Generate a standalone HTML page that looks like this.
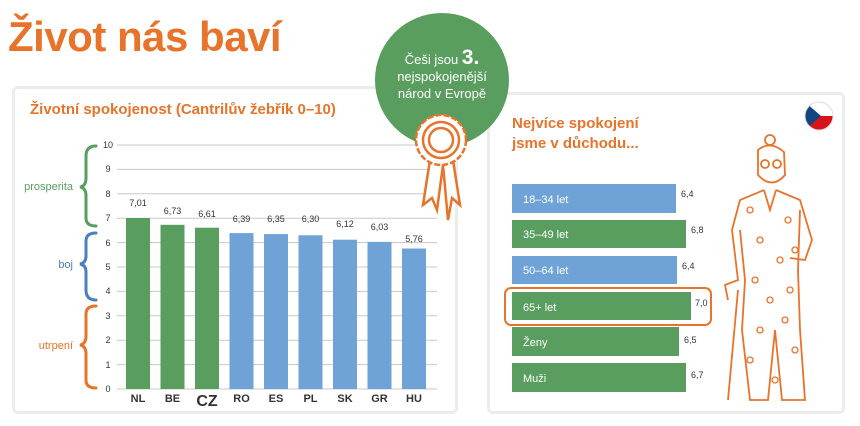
<!DOCTYPE html>
<html><head><meta charset="utf-8"><style>
body{margin:0;width:860px;height:426px;background:#fff;font-family:"Liberation Sans",sans-serif;overflow:hidden;position:relative}
.a{position:absolute}
</style></head><body>
<div class="a" style="left:8px;top:13px;font-size:42px;font-weight:bold;color:#e8732a;letter-spacing:-0.5px">Život nás baví</div>
<div class="a" style="left:12px;top:86px;width:440px;height:322px;border:3px solid #ececec;border-radius:6px"></div>
<div class="a" style="left:487px;top:92px;width:352px;height:316px;border:3px solid #ececec;border-radius:6px"></div>
<svg class="a" style="left:0;top:0" width="860" height="426" font-family="Liberation Sans, sans-serif">
<text x="30" y="114" font-size="15" font-weight="bold" fill="#e8732a">Životní spokojenost (Cantrilův žebřík 0–10)</text>
<g stroke="#c8c8c8" stroke-width="1">
<line x1="117" x2="437" y1="145" y2="145"/><line x1="117" x2="437" y1="169.4" y2="169.4"/><line x1="117" x2="437" y1="193.8" y2="193.8"/><line x1="117" x2="437" y1="218.2" y2="218.2"/><line x1="117" x2="437" y1="242.6" y2="242.6"/><line x1="117" x2="437" y1="267" y2="267"/><line x1="117" x2="437" y1="291.4" y2="291.4"/><line x1="117" x2="437" y1="315.8" y2="315.8"/><line x1="117" x2="437" y1="340.2" y2="340.2"/><line x1="117" x2="437" y1="364.6" y2="364.6"/><line x1="117" x2="437" y1="389" y2="389"/>
</g>
<g font-size="9" fill="#333" text-anchor="middle">
<text x="108" y="148">10</text><text x="108" y="172">9</text><text x="108" y="197">8</text><text x="108" y="221">7</text><text x="108" y="246">6</text><text x="108" y="270">5</text><text x="108" y="294">4</text><text x="108" y="319">3</text><text x="108" y="343">2</text><text x="108" y="368">1</text><text x="108" y="392">0</text>
</g>
<g>
<rect x="126" y="218" width="24" height="171" fill="#5a9e5f"/>
<rect x="160.5" y="224.8" width="24" height="164.2" fill="#5a9e5f"/>
<rect x="195" y="227.7" width="24" height="161.3" fill="#5a9e5f"/>
<rect x="229.5" y="233.1" width="24" height="155.9" fill="#6fa3d8"/>
<rect x="264" y="234.1" width="24" height="154.9" fill="#6fa3d8"/>
<rect x="298.5" y="235.3" width="24" height="153.7" fill="#6fa3d8"/>
<rect x="333" y="239.7" width="24" height="149.3" fill="#6fa3d8"/>
<rect x="367.5" y="241.9" width="24" height="147.1" fill="#6fa3d8"/>
<rect x="402" y="248.5" width="24" height="140.5" fill="#6fa3d8"/>
</g>
<g font-size="9" fill="#333" text-anchor="middle">
<text x="138" y="206">7,01</text><text x="172.5" y="214">6,73</text><text x="207" y="217">6,61</text><text x="241.5" y="222">6,39</text><text x="276" y="222">6,35</text><text x="310.5" y="222">6,30</text><text x="345" y="227">6,12</text><text x="379.5" y="230">6,03</text><text x="414" y="242">5,76</text>
</g>
<g font-size="11" font-weight="bold" fill="#333" text-anchor="middle">
<text x="138" y="402">NL</text><text x="172.5" y="402">BE</text><text x="207" y="406" font-size="16">CZ</text><text x="241.5" y="402">RO</text><text x="276" y="402">ES</text><text x="310.5" y="402">PL</text><text x="345" y="402">SK</text><text x="379.5" y="402">GR</text><text x="414" y="402">HU</text>
</g>
<g fill="none" stroke-width="3" stroke-linecap="round">
<path d="M96 146 Q86 146 86 156 L86 178 Q86 186 80 187 Q86 188 86 196 L86 218 Q86 226 96 226" stroke="#5a9e5f"/>
<path d="M96 233 Q86 233 86 241 L86 256 Q86 263 80 264 Q86 265 86 272 L86 290 Q86 300 96 300" stroke="#4a7fc0"/>
<path d="M96 306 Q86 306 86 314 L86 336 Q86 344 80 345 Q86 346 86 354 L86 380 Q86 388 96 388" stroke="#e8732a"/>
</g>
<text x="73" y="190" font-size="11" fill="#5a9e5f" text-anchor="end">prosperita</text>
<text x="73" y="268" font-size="11" fill="#4a7fc0" text-anchor="end">boj</text>
<text x="73" y="349" font-size="11" fill="#e8732a" text-anchor="end">utrpení</text>
<circle cx="442" cy="80" r="67" fill="#5a9e5f"/>
<text x="442" y="64" font-size="13" fill="#fff" text-anchor="middle">Češi jsou <tspan font-size="21" font-weight="bold">3.</tspan></text>
<text x="442" y="81" font-size="13" fill="#fff" text-anchor="middle">nejspokojenější</text>
<text x="442" y="98" font-size="13" fill="#fff" text-anchor="middle">národ v Evropě</text>
<g fill="#fff" stroke="#e8732a" stroke-width="2.5">
<path d="M430 160 L423 205 L432 198 L437 210 L443 165 M453 160 L460 205 L452 198 L448 220 L443 165"/>
<circle cx="441" cy="140" r="25" stroke-dasharray="6 2"/>
<circle cx="441" cy="140" r="18"/>
<circle cx="441" cy="140" r="12"/>
</g>
<text x="512" y="128" font-size="15" font-weight="bold" fill="#e8732a">Nejvíce spokojení</text>
<text x="512" y="148" font-size="15" font-weight="bold" fill="#e8732a">jsme v důchodu...</text>
<clipPath id="f"><circle cx="819" cy="116" r="14"/></clipPath>
<g clip-path="url(#f)"><rect x="805" y="102" width="28" height="14" fill="#fff"/><rect x="805" y="116" width="28" height="14" fill="#d7141a"/><path d="M805 102 L821 116 L805 130Z" fill="#11457e"/></g>
<circle cx="819" cy="116" r="14" fill="none" stroke="#ddd"/>
<rect x="512" y="184" width="164" height="29" fill="#6fa3d8"/>
<rect x="512" y="220" width="174" height="28" fill="#5a9e5f"/>
<rect x="512" y="256" width="165" height="28" fill="#6fa3d8"/>
<rect x="512" y="292" width="179" height="28" fill="#5a9e5f"/>
<rect x="512" y="327" width="167" height="29" fill="#5a9e5f"/>
<rect x="512" y="363" width="174" height="29" fill="#5a9e5f"/>
<rect x="505" y="288" width="206" height="37" rx="6" fill="none" stroke="#e8732a" stroke-width="2"/>
<g font-size="11" fill="#fff">
<text x="523" y="203">18–34 let</text><text x="523" y="238">35–49 let</text><text x="523" y="274">50–64 let</text><text x="523" y="311">65+ let</text><text x="523" y="346">Ženy</text><text x="523" y="382">Muži</text>
</g>
<g font-size="9" fill="#333">
<text x="681" y="197">6,4</text><text x="691" y="233">6,8</text><text x="682" y="269">6,4</text><text x="695" y="306">7,0</text><text x="684" y="343">6,5</text><text x="691" y="378">6,7</text>
</g>
<g fill="none" stroke="#e8732a" stroke-width="1.8">
<circle cx="770" cy="140" r="5"/>
<path d="M758 150 Q770 140 784 152 L785 175 Q772 190 758 175 Z"/>
<circle cx="765" cy="164" r="4"/><circle cx="777" cy="164" r="4"/>
<path d="M764 190 L740 200 L732 230 L738 280 L725 285 L728 300 M764 190 L770 210 L776 190 M776 190 L800 200 L812 240 L805 260 L790 258"/>
<path d="M740 230 L745 280 L742 330 L750 400 L768 400 L775 330 L782 400 L805 400 L800 330 L798 270 L800 210"/>
<path d="M738 290 L728 400"/>
<g stroke-width="1.3"><circle cx="750" cy="210" r="3"/><circle cx="788" cy="220" r="3"/><circle cx="760" cy="240" r="3"/><circle cx="780" cy="260" r="3"/><circle cx="795" cy="250" r="3"/><circle cx="755" cy="280" r="3"/><circle cx="770" cy="300" r="3"/><circle cx="790" cy="290" r="3"/><circle cx="760" cy="330" r="3"/><circle cx="785" cy="320" r="3"/><circle cx="750" cy="360" r="3"/><circle cx="795" cy="350" r="3"/><circle cx="775" cy="380" r="3"/></g>
</g>
</svg>
</body></html>
